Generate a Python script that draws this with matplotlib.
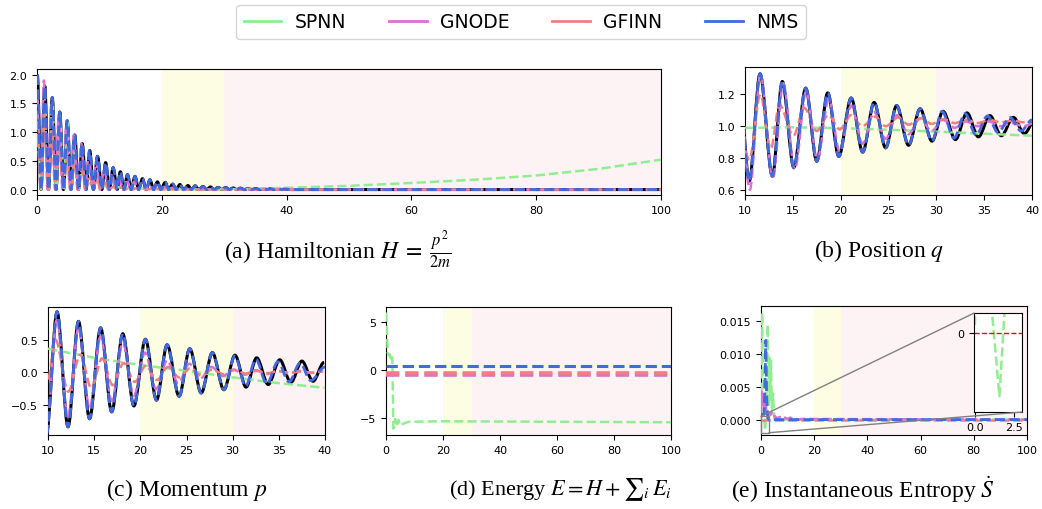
import numpy as np
import matplotlib
matplotlib.use("Agg")
import matplotlib.pyplot as plt
from matplotlib.path import Path
from matplotlib.patches import PathPatch, ConnectionPatch
from matplotlib.lines import Line2D

plt.rcParams['mathtext.fontset'] = 'stix'

# colours of the models
C_SPNN = '#90ee90'
C_GNODE = '#da70d6'
C_GFINN = '#f08080'
C_NMS = '#4169e1'
labels = ['SPNN', 'GNODE', 'GFINN', 'NMS']

# ---------------- (a) Hamiltonian, peaks / troughs
H_pk_t = [0.05, 1.25, 2.45, 3.65, 4.85, 6.05, 7.25, 8.45, 9.7, 11.0, 12.2, 13.35,
          14.5, 15.7, 16.9, 18.1, 19.3, 20.55, 21.75, 22.9, 24.2, 25.35, 26.6, 27.8,
          29.05, 30.25, 31.45, 32.6, 33.85, 35.1, 36.3, 37.5, 38.7, 39.9]
H_tr_t = [0.65, 1.85, 3.05, 4.25, 5.45, 6.65, 7.85, 9.05, 10.4, 11.6, 12.85, 13.95,
          15.1, 16.3, 17.5, 18.7, 19.85, 21.1, 22.3, 23.5, 24.75, 25.9, 27.2, 28.4,
          29.6, 30.8, 32.0, 33.2, 34.4, 35.6, 36.8, 38.1, 39.2, 40.5]
H_pk_true = [2.0, 1.8, 1.6, 1.35, 1.2, 0.95, 0.8, 0.68, 0.58, 0.47, 0.38, 0.31,
             0.26, 0.23, 0.19, 0.17, 0.135, 0.125, 0.095, 0.088, 0.07, 0.065, 0.052, 0.045,
             0.037, 0.034, 0.027, 0.024, 0.018, 0.018, 0.013, 0.014, 0.01, 0.011]

H_gnode_pk_t = [0.05, 1.1, 2.3, 3.5, 4.7, 5.9, 7.1, 8.3, 9.5, 10.8, 12.0, 13.2,
                14.4, 15.6, 16.8, 18.0, 19.2, 20.4, 21.6, 22.8, 24.0, 25.2, 26.4, 27.6]
H_gnode_tr_t = [0.6, 1.7, 2.9, 4.1, 5.3, 6.5, 7.7, 8.9, 10.1, 11.4, 12.6, 13.8,
                15.0, 16.2, 17.4, 18.6, 19.8, 21.0, 22.2, 23.4, 24.6, 25.8, 27.0, 28.2]
H_gnode_pk = [1.6, 1.9, 1.5, 1.3, 1.1, 0.95, 0.8, 0.62, 0.5, 0.35, 0.28, 0.22,
              0.18, 0.14, 0.11, 0.1, 0.07, 0.045, 0.03, 0.016, 0.012, 0.008, 0.006, 0.004]

H_gfinn_pk_t = [0.05, 1.2, 2.4, 3.6, 4.8, 6.0, 7.2, 8.4, 9.6, 10.8, 12.2, 13.5,
                14.7, 15.85, 17.0, 18.2, 19.4, 20.6, 21.8]
H_gfinn_tr_t = [0.6, 1.8, 3.0, 4.2, 5.4, 6.6, 7.8, 9.0, 10.2, 11.5, 12.9, 14.1,
                15.3, 16.4, 17.6, 18.8, 20.0, 21.2, 22.4]
H_gfinn_pk = [0.9, 1.3, 1.05, 0.75, 0.55, 0.45, 0.35, 0.25, 0.18, 0.125, 0.045, 0.037,
              0.03, 0.022, 0.02, 0.01, 0.011, 0.005, 0.007]

H_spnn_pk_t = [0.05, 1.25, 2.45, 3.65, 4.85, 6.05, 7.25]
H_spnn_tr_t = [0.65, 1.85, 3.05, 4.25, 5.45, 6.65, 7.85]
H_spnn_pk = [1.2, 1.5, 1.55, 1.3, 1.2, 0.7, 0.35]
H_spnn_tr = [0, 0, 0, 0, 0, 0, 0.12]
H_spnn_tail_t = [7.85, 10, 15, 20, 25, 30, 40, 50, 60, 70, 80, 90, 100]
H_spnn_tail = [0.12, 0.065, 0.024, 0.006, 0.001, 0.004, 0.03, 0.065, 0.115, 0.17, 0.245, 0.36, 0.52]

# ---------------- (b) position q, extrema
q_t = [9.25, 10.45, 11.57, 12.86, 13.9, 15.1, 16.35, 17.5, 18.65, 19.8, 21.1, 22.3, 23.5,
       24.7, 25.85, 27.1, 28.3, 29.55, 30.7, 32.0, 33.2, 34.4, 35.6, 36.8, 38.05, 39.2, 40.4]
q_true = [1.38, 0.655, 1.33, 0.686, 1.282, 0.74, 1.24, 0.78, 1.21, 0.81, 1.178, 0.837, 1.15,
          0.864, 1.13, 0.88, 1.11, 0.906, 1.094, 0.916, 1.084, 0.933, 1.067, 0.94, 1.056, 0.954, 1.05]
q_nms_t = [9.25, 10.45, 11.57, 12.86, 13.9, 15.1, 16.35, 17.5, 18.65, 19.8, 21.1, 22.3, 23.5,
           24.7, 25.85, 27.1, 28.3, 29.55, 30.6, 31.85, 33.0, 34.15, 35.35, 36.45, 37.7, 38.85, 40.0]
q_nms = [1.38, 0.655, 1.33, 0.686, 1.282, 0.74, 1.24, 0.78, 1.21, 0.81, 1.178, 0.837, 1.15,
         0.864, 1.13, 0.88, 1.11, 0.906, 1.094, 0.925, 1.08, 0.945, 1.065, 0.96, 1.055, 0.97, 1.04]
q_gnode_t = [9.3, 10.5, 11.6, 12.9, 14.0, 15.2, 16.4, 17.55, 18.75, 19.9, 21.1, 22.3, 23.5,
             24.7, 25.9, 27.1, 28.3, 29.5, 30.7, 31.9, 33.1, 34.3, 35.5, 36.7, 37.9, 39.1, 40.3]
q_gnode = [1.35, 0.6, 1.33, 0.67, 1.27, 0.73, 1.22, 0.79, 1.17, 0.84, 1.13, 0.89, 1.09,
           0.92, 1.07, 0.95, 1.05, 0.97, 1.04, 0.99, 1.03, 1.0, 1.03, 1.0, 1.02, 1.0, 1.02]
q_gfinn_t = [9.3, 10.45, 11.6, 12.7, 13.6, 15.05, 16.2, 17.5, 18.7, 19.9, 21.1, 22.25, 23.6,
             24.7, 26.0, 27.1, 28.4, 29.5, 30.8, 31.9, 33.2, 34.3, 35.6, 36.7, 38.0, 39.1, 40.4]
q_gfinn = [1.0, 0.79, 1.2, 0.86, 1.135, 0.94, 1.115, 0.97, 1.07, 0.98, 1.07, 1.0, 1.06,
           1.0, 1.055, 1.01, 1.05, 1.015, 1.045, 1.02, 1.04, 1.02, 1.04, 1.025, 1.035, 1.025, 1.035]
q_spnn_t = [10, 15, 20, 25, 30, 35, 40]
q_spnn = [0.99, 0.993, 0.988, 0.978, 0.966, 0.953, 0.94]

# ---------------- (c) momentum p, extrema
p_t = [9.8, 10.98, 12.17, 13.3, 14.5, 15.7, 16.9, 18.1, 19.3, 20.55, 21.75, 22.9, 24.2,
       25.35, 26.6, 27.8, 29.05, 30.25, 31.45, 32.6, 33.85, 35.1, 36.3, 37.5, 38.7, 39.9]
p_true = [-0.98, 0.926, -0.84, 0.78, -0.715, 0.68, -0.61, 0.59, -0.52, 0.505, -0.43, 0.42, -0.37,
          0.36, -0.32, 0.30, -0.27, 0.26, -0.23, 0.22, -0.19, 0.19, -0.16, 0.17, -0.14, 0.15]
p_nms_t = [9.8, 10.98, 12.17, 13.3, 14.5, 15.7, 16.9, 18.1, 19.3, 20.55, 21.75, 22.9, 24.2,
           25.35, 26.6, 27.8, 29.05, 30.25, 31.4, 32.5, 33.7, 34.9, 36.1, 37.3, 38.45, 40.0]
p_nms = [-0.98, 0.926, -0.84, 0.78, -0.715, 0.68, -0.61, 0.59, -0.52, 0.505, -0.43, 0.42, -0.37,
         0.36, -0.32, 0.30, -0.27, 0.25, -0.22, 0.2, -0.18, 0.16, -0.15, 0.14, -0.13, 0.08]
p_gnode_t = [9.8, 10.95, 12.15, 13.3, 14.5, 15.7, 16.9, 18.1, 19.3, 20.5, 21.7, 22.9, 24.1,
             25.3, 26.5, 27.7, 28.9, 30.1, 31.3, 32.5, 33.7, 34.9, 36.1, 37.3, 38.5, 39.7]
p_gnode = [-0.95, 0.8, -0.68, 0.68, -0.55, 0.55, -0.44, 0.45, -0.36, 0.3, -0.26, 0.18, -0.17,
           0.13, -0.1, 0.08, -0.06, 0.04, -0.04, 0.03, -0.03, 0.02, -0.02, 0.02, -0.01, 0.01]
p_gfinn_t = [10.0, 10.8, 12.2, 13.5, 14.7, 15.85, 17.0, 18.2, 19.4, 20.6, 21.8, 23.0, 24.2,
             25.4, 26.6, 27.8, 29.0, 30.2, 31.4, 32.6, 33.8, 35.0, 36.2, 37.4, 38.6, 39.8]
p_gfinn = [-0.1, 0.5, -0.3, 0.27, -0.25, 0.21, -0.2, 0.14, -0.15, 0.1, -0.12, 0.08, -0.08,
           0.06, -0.05, 0.04, -0.03, 0.03, -0.02, 0.02, -0.015, 0.015, -0.01, 0.01, -0.01, 0.01]
p_spnn_t = [10, 15, 20, 25, 30, 35, 40]
p_spnn = [0.36, 0.22, 0.11, 0.02, -0.08, -0.17, -0.24]

# ---------------- (d) energy
E_t = [0, 100]
E_nms = [0.38, 0.38]
E_gfinn = [-0.28, -0.28]
E_gnode = [-0.55, -0.55]
E_spnn_t = [0, 0.3, 0.6, 1.0, 1.4, 1.8, 2.2, 2.6, 3.2, 3.8, 4.4, 5.0, 6.0, 8, 20, 60, 100]
E_spnn = [6.0, 4.5, 1.8, 1.5, 1.6, 0.9, 1.3, -6.1, -5.1, -5.9, -5.2, -5.8, -5.6, -5.4, -5.35, -5.4, -5.45]

# ---------------- (e) entropy production
S_spnn_t = [0, 0.4, 1.09, 1.56, 1.88, 2.5, 2.85, 3.15, 3.45, 3.75, 4.1, 4.5, 5.0, 6.0, 100]
S_spnn = [0.0002, 0.0163, 0.0005, -0.0016, 0.0005, 0.0145, 0.002, 0.0098, 0.003, 0.009,
          0.001, 0.004, 0.0, 0.0, 0.0]
S_nms_t = [0, 1.2, 1.5, 1.8, 2.1, 2.5, 3.0, 100]
S_nms = [0.0008, 0.0008, 0.006, 0.0121, 0.004, 0.0003, 0.0, 0.0]
S_gnode_t = [0, 0.3, 0.6, 0.9, 1.2, 1.5, 2.0, 2.5, 3.0, 3.5, 4.0, 4.5, 5.0, 6, 7, 8, 9,
             10, 11, 12, 13, 14, 15, 100]
S_gnode = [0.001, 0.0045, 0.002, 0.004, 0.0015, 0.003, 0.0012, 0.0008, 0.0011, 0.0007,
           0.001, 0.0004, 0.0006, 0.0002, 0.0004, 0.0001, 0.0003, 0.0001, 0.0003, 0.0001,
           0.0002, 0.0, 0.0001, 0.0]
S_gfinn_t = [0, 100]
S_gfinn = [0.0, 0.0]

# zoom window of the inset
zoom_x = (-0.06, 3.0)
zoom_y = (-0.002, 0.0005)

captions = [r'(a) Hamiltonian $H\;=\;\frac{p^2}{2m}$', r'(b) Position $q$', r'(c) Momentum $p$',
            r'(d) Energy $E=H+{\sum}_i\, E_i$', r'(e) Instantaneous Entropy $\dot{S}$']


def interleave(pk_t, pk_v, tr_t, tr_v):
    t, v = [], []
    for a, b, c, d in zip(pk_t, pk_v, tr_t, tr_v):
        t += [a, c]
        v += [b, d]
    return t, v


def wave(ax, t, v, **kw):
    # smooth curve through the extrema (horizontal tangent at each one)
    verts = [(t[0], v[0])]
    codes = [Path.MOVETO]
    for i in range(len(t) - 1):
        d = (t[i + 1] - t[i]) / 3.0
        verts += [(t[i] + d, v[i]), (t[i + 1] - d, v[i + 1]), (t[i + 1], v[i + 1])]
        codes += [Path.CURVE4] * 3
    ax.add_patch(PathPatch(Path(verts, codes), fill=False, joinstyle='round', **kw))


def shade(ax, xmax):
    ax.axvspan(20, 30, color='#fdfde4', lw=0, zorder=0)
    ax.axvspan(30, xmax, color='#fdf3f5', lw=0, zorder=0)


LW = 1.8
DASH = dict(ls='--', lw=LW)
NMSK = dict(ls='--', lw=2.0)

fig = plt.figure(figsize=(10.42, 5.10), dpi=100)
W, Hh = 1042.0, 510.0


def add_ax(l, r, t, b):
    return fig.add_axes([l / W, 1 - b / Hh, (r - l) / W, (b - t) / Hh])


axa = add_ax(37, 661, 70, 196)
axb = add_ax(745, 1032, 68, 196)
axc = add_ax(48, 325, 308, 436)
axd = add_ax(386, 671, 308, 436)
axe = add_ax(761, 1027, 307, 436)

# (a)
shade(axa, 100)
t, v = interleave(H_pk_t, H_pk_true, H_tr_t, [0] * len(H_tr_t))
wave(axa, t + [100], v + [0], ec='black', lw=2.2, zorder=2)
t2, v2 = interleave(H_spnn_pk_t, H_spnn_pk, H_spnn_tr_t, H_spnn_tr)
wave(axa, t2, v2, ec=C_SPNN, zorder=3, **DASH)
axa.plot(H_spnn_tail_t, H_spnn_tail, color=C_SPNN, zorder=3, **DASH)
t3, v3 = interleave(H_gnode_pk_t, H_gnode_pk, H_gnode_tr_t, [0] * len(H_gnode_tr_t))
wave(axa, t3 + [100], v3 + [0], ec=C_GNODE, zorder=3, **DASH)
t4, v4 = interleave(H_gfinn_pk_t, H_gfinn_pk, H_gfinn_tr_t, [0] * len(H_gfinn_tr_t))
wave(axa, t4 + [100], v4 + [0], ec=C_GFINN, zorder=3, **DASH)
wave(axa, t + [100], v + [0], ec=C_NMS, zorder=4, **NMSK)
axa.set_xlim(0, 100)
axa.set_ylim(-0.095, 2.1)
axa.set_xticks([0, 20, 40, 60, 80, 100])
axa.set_yticks([0.0, 0.5, 1.0, 1.5, 2.0])

# (b)
shade(axb, 40)
wave(axb, q_t, q_true, ec='black', lw=2.2, zorder=2)
axb.plot(q_spnn_t, q_spnn, color=C_SPNN, zorder=3, **DASH)
wave(axb, q_gnode_t, q_gnode, ec=C_GNODE, zorder=3, **DASH)
wave(axb, q_gfinn_t, q_gfinn, ec=C_GFINN, zorder=3, **DASH)
wave(axb, q_nms_t, q_nms, ec=C_NMS, zorder=4, **NMSK)
axb.set_xlim(10, 40)
axb.set_ylim(0.567, 1.373)
axb.set_xticks([10, 15, 20, 25, 30, 35, 40])
axb.set_yticks([0.6, 0.8, 1.0, 1.2])

# (c)
shade(axc, 40)
wave(axc, p_t, p_true, ec='black', lw=2.2, zorder=2)
axc.plot(p_spnn_t, p_spnn, color=C_SPNN, zorder=3, **DASH)
wave(axc, p_gnode_t, p_gnode, ec=C_GNODE, zorder=3, **DASH)
wave(axc, p_gfinn_t, p_gfinn, ec=C_GFINN, zorder=3, **DASH)
wave(axc, p_nms_t, p_nms, ec=C_NMS, zorder=4, **NMSK)
axc.set_xlim(10, 40)
axc.set_ylim(-0.965, 1.0)
axc.set_xticks([10, 15, 20, 25, 30, 35, 40])
axc.set_yticks([-0.5, 0.0, 0.5])

# (d)
shade(axd, 100)
axd.plot(E_spnn_t, E_spnn, color=C_SPNN, zorder=3, **DASH)
axd.plot(E_t, E_gnode, color=C_GNODE, ls='--', lw=2.6, zorder=3)
axd.plot(E_t, E_gfinn, color=C_GFINN, ls='--', lw=2.6, zorder=3)
axd.plot(E_t, E_nms, color=C_NMS, ls='--', lw=2.2, zorder=4)
axd.set_xlim(0, 100)
axd.set_ylim(-6.78, 6.57)
axd.set_xticks([0, 20, 40, 60, 80, 100])
axd.set_yticks([-5, 0, 5])

# (e)
shade(axe, 100)
axe.plot(S_spnn_t, S_spnn, color=C_SPNN, zorder=3, **DASH)
axe.plot(S_gnode_t, S_gnode, color=C_GNODE, zorder=3, **DASH)
axe.plot(S_gfinn_t, S_gfinn, color=C_GFINN, zorder=3, **DASH)
axe.plot(S_nms_t, S_nms, color=C_NMS, zorder=4, **NMSK)
axe.set_xlim(0, 100)
axe.set_ylim(-0.00235, 0.01735)
axe.set_xticks([0, 20, 40, 60, 80, 100])
axe.set_yticks([0.0, 0.005, 0.010, 0.015])
axe.yaxis.set_major_formatter(plt.FormatStrFormatter('%.3f'))

axins = axe.inset_axes([0.8008, 0.178, 0.1805, 0.767])
axins.plot(S_spnn_t, S_spnn, color=C_SPNN, **DASH)
axins.axhline(0, color='red', ls='--', lw=1)
axins.set_xlim(*zoom_x)
axins.set_ylim(*zoom_y)
axins.set_xticks([0.0, 2.5])
axins.set_xticklabels(['0.0', '2.5'])
axins.set_yticks([0])
axins.set_yticklabels(['0'])
axins.tick_params(labelsize=8)

# zoom rectangle plus the two connector lines (upper-left and lower-right)
axe.indicate_inset([zoom_x[0], zoom_y[0], zoom_x[1] - zoom_x[0], zoom_y[1] - zoom_y[0]],
                   edgecolor='gray', alpha=1, lw=1, zorder=5)
for pa, pb in [((zoom_x[0], zoom_y[1]), (0, 1)), ((zoom_x[1], zoom_y[0]), (1, 0))]:
    con = ConnectionPatch(xyA=pa, coordsA=axe.transData, xyB=pb, coordsB=axins.transAxes,
                          color='gray', lw=1, zorder=5)
    fig.add_artist(con)

for ax in (axa, axb, axc, axd, axe):
    ax.tick_params(labelsize=8)

# captions
cap_kw = dict(ha='center', va='center', fontsize=17, family='Liberation Serif')
fig.text(338 / W, 1 - 250 / Hh, captions[0], **cap_kw)
fig.text(879 / W, 1 - 251 / Hh, captions[1], **cap_kw)
fig.text(187 / W, 1 - 490 / Hh, captions[2], **cap_kw)
fig.text(560 / W, 1 - 490 / Hh, captions[3], ha='center', va='center', fontsize=16,
         family='Liberation Serif')
fig.text(863 / W, 1 - 490 / Hh, captions[4], **cap_kw)

handles = [Line2D([], [], color=c, lw=2) for c in (C_SPNN, C_GNODE, C_GFINN, C_NMS)]
fig.legend(handles, labels, loc='upper center', bbox_to_anchor=(0.5, 1.0), ncol=4,
           fontsize=13.5, handlelength=2.0, columnspacing=2.3, handletextpad=0.7,
           borderaxespad=0.3)

fig.savefig('out.png', dpi=100)
